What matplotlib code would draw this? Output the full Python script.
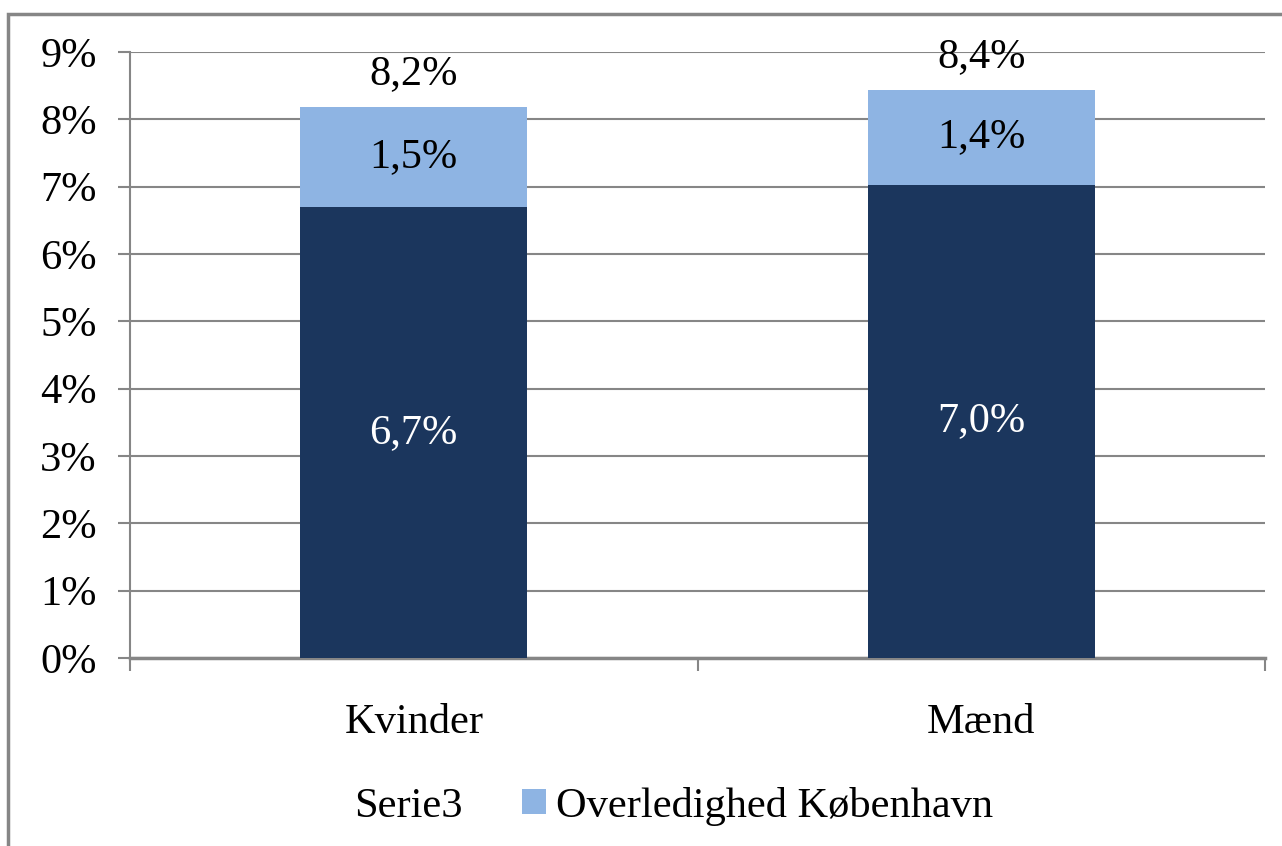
import matplotlib
matplotlib.use("Agg")
import matplotlib.pyplot as plt
from matplotlib.patches import Patch, Rectangle
import numpy as np

categories = ["Kvinder", "Mænd"]
base_values = [6.70, 7.03]
extra_values = [1.48, 1.41]
base_labels = ["6,7%", "7,0%"]
extra_labels = ["1,5%", "1,4%"]
total_labels = ["8,2%", "8,4%"]
yticks = list(range(0, 10))
ytick_labels = [f"{v}%" for v in yticks]

dark = "#1B365D"
light = "#8EB4E3"
grid = "#868686"

plt.rcParams['font.family'] = ['Liberation Serif', 'DejaVu Serif']
fs = 30.5

fig = plt.figure(figsize=(12.82, 8.46), dpi=100)
W, H = 1282, 846
ax = fig.add_axes([130 / W, 1 - 658 / H, (1265 - 130) / W, (658 - 52) / H])

x = np.arange(len(categories))
bw = 0.4
ax.bar(x, base_values, width=bw, color=dark, zorder=3)
ax.bar(x, extra_values, width=bw, bottom=base_values, color=light, zorder=3)

for i in range(len(categories)):
    ax.text(x[i], base_values[i] / 2, base_labels[i], ha='center', va='center',
            color='white', fontsize=fs, zorder=4)
    ax.text(x[i], base_values[i] + extra_values[i] / 2, extra_labels[i], ha='center',
            va='center', color='black', fontsize=fs, zorder=4)
    tot = base_values[i] + extra_values[i]
    ax.annotate(total_labels[i], (x[i], tot), xytext=(0, 33), textcoords='offset pixels',
                ha='center', va='center', fontsize=fs, zorder=4)

ax.set_xlim(-0.5, 1.5)
ax.set_ylim(0, 9)
ax.set_yticks(yticks)
ax.set_yticklabels(ytick_labels)
ax.yaxis.grid(True, color=grid, linewidth=1.5, zorder=0)
ax.set_axisbelow(True)

ax.set_xticks(x)
ax.set_xticklabels(categories)
ax.set_xticks([-0.5, 0.5, 1.5], minor=True)
ax.tick_params(axis='x', which='major', length=0, pad=33, labelsize=fs)
ax.tick_params(axis='x', which='minor', length=9, width=1.5, color=grid, direction='out')
ax.tick_params(axis='y', which='major', length=9, width=1.5, color=grid, direction='out',
               pad=15, labelsize=fs)

for s in ['top', 'right']:
    ax.spines[s].set_visible(False)
for s in ['left', 'bottom']:
    ax.spines[s].set_color(grid)
    ax.spines[s].set_linewidth(1.5)
ax.spines['bottom'].set_linewidth(2.5)

handles = [Patch(facecolor='none', edgecolor='none', label='Serie3'),
           Patch(facecolor=light, edgecolor='none', label='Overledighed København')]
fig.legend(handles=handles, loc='center', bbox_to_anchor=(657 / W, 1 - 806 / H),
           ncol=2, frameon=False, fontsize=fs, handlelength=0.55, handleheight=0.55,
           handletextpad=0.25, columnspacing=1.4)

fig.patches.append(Rectangle((8 / W, -0.1), 1.2, 1 - 14 / H + 0.1, transform=fig.transFigure,
                             fill=False, edgecolor=grid, linewidth=2.5))

fig.savefig("out.png", dpi=100)
